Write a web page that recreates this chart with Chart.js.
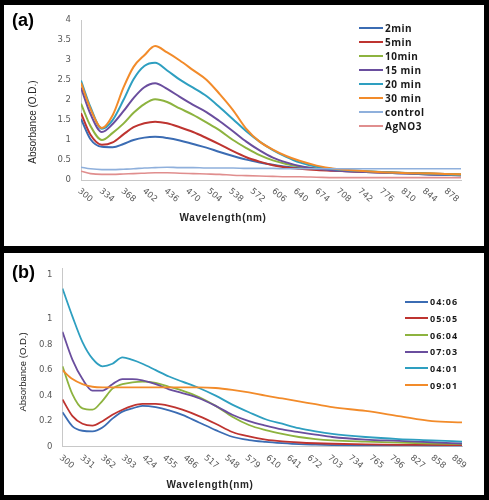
<!DOCTYPE html>
<html><head><meta charset="utf-8">
<script src="https://cdn.jsdelivr.net/npm/chart.js@4/dist/chart.umd.min.js"></script>
<style>
html,body{margin:0;padding:0;background:#000;width:489px;height:500px;overflow:hidden;}
.panel{position:absolute;background:#fff;}
#pa{left:4px;top:5px;width:480px;height:241px;}
#pb{left:4px;top:253px;width:480px;height:242px;}
canvas{position:absolute;left:0;top:0;}
.tag{position:absolute;font:bold 18px "Liberation Sans",Arial,sans-serif;line-height:18px;color:#000;}
.leg{position:absolute;left:0;top:0;font-family:"Open Sans",sans-serif;font-weight:bold;color:#1a1a1a;white-space:nowrap;}
.leg .it{position:absolute;height:14px;display:flex;align-items:center;}
.leg .ln{display:inline-block;height:2px;margin-right:2px;}
</style></head>
<body>
<div class="panel" id="pa"><canvas id="ca" width="480" height="241"></canvas><div class="tag" style="left:8px;top:6px">(a)</div><div class="leg" id="la"></div></div>
<div class="panel" id="pb"><canvas id="cb" width="480" height="242"></canvas><div class="tag" style="left:8px;top:10px">(b)</div><div class="leg" id="lb"></div></div>
<script>
// ---------- Panel (a) data ----------
const wlA = [300,315,333,350,367,383,400,417,436,456,477,498,519,540,561,582,603,624,645,672,700,750,800,850,900];
const min2  = [1.53,1.02,0.83,0.82,0.90,1.00,1.06,1.08,1.05,0.99,0.90,0.81,0.70,0.60,0.51,0.44,0.38,0.33,0.30,0.27,0.24,0.20,0.17,0.14,0.12];
const min5  = [1.67,1.13,0.88,0.94,1.14,1.32,1.42,1.46,1.42,1.32,1.20,1.05,0.89,0.72,0.57,0.46,0.37,0.31,0.28,0.25,0.23,0.20,0.18,0.16,0.14];
const min10 = [1.91,1.35,1.00,1.18,1.41,1.68,1.90,2.02,1.95,1.79,1.63,1.44,1.24,1.00,0.80,0.62,0.49,0.40,0.34,0.29,0.25,0.21,0.18,0.16,0.14];
const min15 = [2.31,1.65,1.20,1.40,1.72,2.05,2.32,2.42,2.28,2.08,1.88,1.70,1.47,1.22,0.96,0.74,0.56,0.44,0.35,0.28,0.24,0.20,0.17,0.14,0.12];
const min20 = [2.49,1.82,1.28,1.50,2.00,2.52,2.85,2.93,2.74,2.51,2.31,2.10,1.82,1.52,1.22,0.96,0.75,0.58,0.44,0.33,0.27,0.22,0.18,0.15,0.12];
const min30 = [2.43,1.78,1.30,1.62,2.31,2.83,3.12,3.35,3.19,2.99,2.75,2.51,2.15,1.75,1.28,0.96,0.76,0.60,0.48,0.36,0.28,0.22,0.18,0.16,0.14];
const control = [0.32,0.28,0.26,0.26,0.27,0.28,0.30,0.31,0.32,0.31,0.31,0.30,0.30,0.30,0.29,0.29,0.29,0.28,0.28,0.28,0.28,0.28,0.28,0.28,0.28];
const agno3 = [0.22,0.16,0.14,0.14,0.15,0.16,0.17,0.18,0.18,0.17,0.16,0.15,0.14,0.12,0.11,0.10,0.09,0.08,0.08,0.07,0.06,0.06,0.06,0.06,0.06];
const seriesA = [min2,min5,min10,min15,min20,min30,control,agno3];
const namesA = ['2min','5min','10min','15 min','20 min','30 min','control','AgNO3'];
const colorsA = ['#3B6CB3','#BE3430','#8DB33F','#6A4E9E','#2E9FC0','#F28B2A','#8FB0DC','#E08E8E'];
const xTicksA = [300,334,368,402,436,470,504,538,572,606,640,674,708,742,776,810,844,878];
const yTicksA = [0,0.5,1,1.5,2,2.5,3,3.5,4];
const yLabelsA = ['0','0.5','1','1.5','2','2.5','3','3.5','4'];

// ---------- Panel (b) data ----------
const wlB = [300,315,330,345,360,375,390,405,420,440,460,480,505,530,555,580,605,630,655,680,705,755,805,855,900];
const t0406 = [0.27,0.16,0.125,0.12,0.15,0.22,0.275,0.30,0.32,0.31,0.285,0.25,0.19,0.13,0.078,0.052,0.038,0.028,0.02,0.016,0.013,0.011,0.01,0.009,0.008];
const t0505 = [0.37,0.24,0.18,0.165,0.20,0.25,0.29,0.32,0.335,0.335,0.32,0.29,0.24,0.18,0.115,0.08,0.056,0.042,0.033,0.027,0.023,0.018,0.015,0.014,0.013];
const t0604 = [0.63,0.41,0.30,0.29,0.36,0.455,0.49,0.505,0.51,0.50,0.47,0.44,0.39,0.32,0.235,0.17,0.13,0.10,0.076,0.06,0.05,0.04,0.032,0.025,0.02];
const t0703 = [0.90,0.68,0.53,0.44,0.44,0.49,0.53,0.53,0.52,0.49,0.45,0.42,0.38,0.32,0.25,0.20,0.165,0.135,0.114,0.095,0.076,0.056,0.046,0.035,0.025];
const t0401 = [1.24,1.02,0.82,0.69,0.63,0.65,0.70,0.68,0.65,0.60,0.55,0.51,0.46,0.40,0.33,0.27,0.215,0.18,0.145,0.12,0.10,0.076,0.06,0.05,0.04];
const t0901 = [0.60,0.53,0.49,0.47,0.465,0.465,0.465,0.465,0.465,0.465,0.465,0.465,0.465,0.46,0.445,0.425,0.40,0.378,0.355,0.333,0.31,0.28,0.24,0.20,0.19];
const seriesB = [t0406,t0505,t0604,t0703,t0401,t0901];
const namesB = ['04:06','05:05','06:04','07:03','04:01','09:01'];
const colorsB = ['#3B6CB3','#BE3430','#8DB33F','#6A4E9E','#2E9FC0','#F28B2A'];
const xTicksB = [300,331,362,393,424,455,486,517,548,579,610,641,672,703,734,765,796,827,858,889];
const yTicksB = [0,0.2,0.4,0.6,0.8,1,1.35];
const yLabelsB = ['0','0.2','0.4','0.6','0.8','1','1'];

function textPlugin(cfg){
  return {
    id:'txt',
    afterDraw(chart){
      const {ctx, chartArea} = chart;
      const x = chart.scales.x;
      ctx.save();
      ctx.fillStyle = '#595959';
      ctx.font = '8.5px "DejaVu Sans", sans-serif';
      ctx.textAlign = 'left'; ctx.textBaseline = 'middle';
      cfg.ticks.forEach(v => {
        const px = x.getPixelForValue(v);
        ctx.save();
        ctx.translate(px - 2, chartArea.bottom + 10);
        ctx.rotate(40 * Math.PI / 180);
        ctx.fillText(String(v), 0, 0);
        ctx.restore();
      });
      ctx.fillStyle = '#262626';
      ctx.textAlign = 'center';
      ctx.font = 'bold 10px "Liberation Sans", sans-serif';
      try { ctx.letterSpacing = '0.7px'; } catch(e) {}
      ctx.fillText('Wavelength(nm)', cfg.xtx, cfg.xty);
      try { ctx.letterSpacing = '0px'; } catch(e) {}
      ctx.font = cfg.yFont;
      ctx.translate(cfg.ytx, cfg.yty);
      ctx.rotate(-Math.PI / 2);
      ctx.fillText('Absorbance (O.D.)', 0, 0);
      ctx.restore();
    }
  };
}

function makeChart(id, wl, series, names, colors, lw, yMax, yTicks, yLabels, xTicks, pad, yW, xH, txt){
  const datasets = series.map((s, i) => ({
    label: names[i],
    data: wl.map((w, j) => ({x: w, y: s[j]})),
    borderColor: colors[i],
    borderWidth: lw[i],
    pointRadius: 0,
    fill: false,
    cubicInterpolationMode: 'monotone',
    order: series.length - i
  }));
  return new Chart(document.getElementById(id), {
    type: 'line',
    data: {datasets},
    plugins: [textPlugin(txt)],
    options: {
      responsive: false, animation: false,
      layout: {padding: pad},
      plugins: {legend: {display: false}, tooltip: {enabled: false}},
      scales: {
        x: {
          type: 'linear', min: 300, max: 900,
          grid: {display: false, drawTicks: false},
          border: {display: true, color: '#c8c8c8', width: 1},
          ticks: {display: false},
          afterBuildTicks: s => { s.ticks = xTicks.map(v => ({value: v})); },
          afterFit: s => { s.height = xH; }
        },
        y: {
          min: 0, max: yMax,
          grid: {display: false, drawTicks: false},
          border: {display: true, color: '#c8c8c8', width: 1},
          ticks: {padding: 10, color: '#595959', font: {family: 'DejaVu Sans', size: 8.5},
                  callback: (v, i) => yLabels[i]},
          afterBuildTicks: s => { s.ticks = yTicks.map(v => ({value: v})); },
          afterFit: s => { s.width = yW; }
        }
      }
    }
  });
}

makeChart('ca', wlA, seriesA, namesA, colorsA, [2,2,2,2,2,2,1.6,1.6], 4, yTicksA, yLabelsA, xTicksA,
  {left: 0, top: 7.7, right: 23, bottom: 0}, 77, 66,
  {ticks: xTicksA, xtx: 219, xty: 213, ytx: 29, yty: 117, yFont: '10px "Liberation Sans Narrow", "Liberation Sans", sans-serif'});
makeChart('cb', wlB, seriesB, namesB, colorsB, [1.8,1.8,1.8,1.8,1.8,1.8], 1.4, yTicksB, yLabelsB, xTicksB,
  {left: 0, top: 10, right: 22, bottom: 0}, 58.5, 48.3,
  {ticks: xTicksB, xtx: 206, xty: 232, ytx: 19, yty: 119, yFont: '9.5px "Liberation Sans Narrow", "Liberation Sans", sans-serif'});

function buildLegend(id, names, colors, lineX, lineW, y0, dy, fs, ls){
  const el = document.getElementById(id);
  names.forEach((n, i) => {
    const d = document.createElement('div');
    d.className = 'it';
    d.style.left = lineX + 'px';
    d.style.top = (y0 + dy * i - 7) + 'px';
    d.style.fontSize = fs + 'px';
    d.style.letterSpacing = ls + 'px';
    const l = document.createElement('span');
    l.className = 'ln'; l.style.width = lineW + 'px'; l.style.background = colors[i];
    const t = document.createElement('span');
    t.textContent = n;
    d.appendChild(l); d.appendChild(t);
    el.appendChild(d);
  });
}
buildLegend('la', namesA, colorsA, 355, 24, 23.3, 13.9, 10, 0.5);
buildLegend('lb', namesB, colorsB, 401, 23, 48.7, 16.66, 9, 1);
</script>
</body></html>
